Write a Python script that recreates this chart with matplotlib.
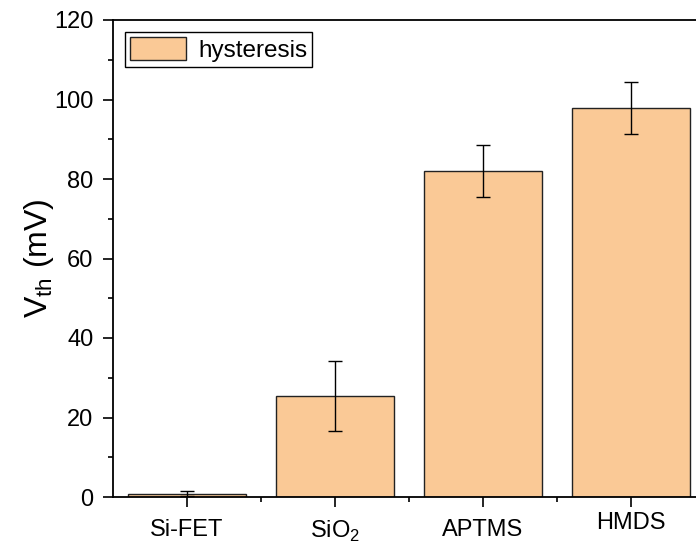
import numpy as np
import matplotlib
matplotlib.use("Agg")
import matplotlib.pyplot as plt
from matplotlib.ticker import MultipleLocator, FixedLocator
from matplotlib.transforms import ScaledTranslation

plt.rcParams["font.family"] = ["Liberation Sans", "DejaVu Sans"]
plt.rcParams["mathtext.fontset"] = "custom"
plt.rcParams["mathtext.rm"] = "Liberation Sans"

samples = ["Si-FET", "SiO$_2$", "APTMS", "HMDS"]
hysteresis = [0.8, 25.3, 82.0, 97.9]
hysteresis_err = [0.6, 8.8, 6.5, 6.6]

fig = plt.figure(figsize=(6.96, 5.48), dpi=100)
ax = fig.add_axes([113 / 696, 51 / 548, 592 / 696, 477 / 548])

x = np.arange(len(samples))
ax.bar(x, hysteresis, width=0.8, color="#FAC996", edgecolor="#222222",
       linewidth=1.0, label="hysteresis", zorder=2)
ax.errorbar(x, hysteresis, yerr=hysteresis_err, fmt="none", ecolor="black",
            elinewidth=1.0, capsize=5, capthick=1.0, zorder=3)

ax.set_xlim(-0.5, 3.5)
ax.set_ylim(0, 120)
ax.yaxis.set_major_locator(MultipleLocator(20))
ax.yaxis.set_minor_locator(MultipleLocator(10))
ax.set_xticks(x)
ax.set_xticklabels(samples)
ax.xaxis.set_minor_locator(FixedLocator([0.5, 1.5, 2.5]))

for s in ax.spines.values():
    s.set_linewidth(1.3)
ax.spines["right"].set_visible(False)
ax.tick_params(which="major", direction="out", length=7, width=1.2,
               labelsize=17, pad=7)
ax.tick_params(which="minor", direction="out", length=3.5, width=1.2)
ax.tick_params(axis="x", which="major", pad=9)

# HMDS label sits a little higher
lbl = ax.get_xticklabels()[3]
lbl.set_transform(lbl.get_transform() + ScaledTranslation(0, 7 / 100, fig.dpi_scale_trans))

ax.set_ylabel("V$_{\\mathregular{th}}$ (mV)", fontsize=23, labelpad=-1)

leg = ax.legend(loc="upper left", fontsize=17.5, frameon=True, fancybox=False,
                edgecolor="black", framealpha=1, handlelength=2.3,
                handleheight=1.1, borderpad=0.2, handletextpad=0.5,
                borderaxespad=0.5)
leg.get_frame().set_linewidth(1.0)

fig.savefig("out.png", dpi=100)
